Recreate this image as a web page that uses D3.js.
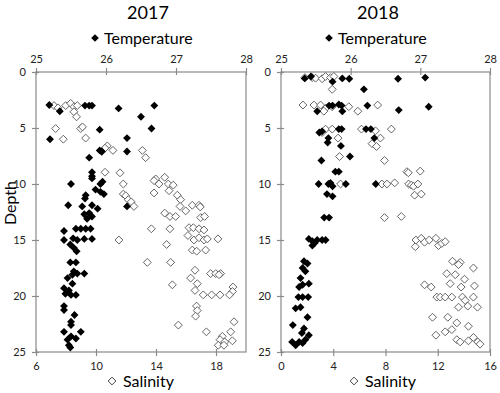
<!DOCTYPE html>
<html><head><meta charset="utf-8">
<script src="https://cdn.jsdelivr.net/npm/d3@7"></script>
<style>body{margin:0;background:#fff}svg{display:block;font-family:Lato,"Open Sans",sans-serif}</style>
</head><body><svg id="c" width="500" height="393"></svg>
<script>
// [temperature, depth]
const temp2017 = [[25.19,2.95],[25.34,3.5],[25.7,3.0],[25.76,3.0],[25.8,3.0],[26.18,3.25],[26.69,3.0],[26.5,4.0],[25.91,5.15],[26.65,5.05],[25.2,6.0],[26.3,5.9],[25.91,7.0],[25.94,7.1],[26.3,7.1],[25.76,7.65],[25.8,8.95],[25.8,9.3],
[25.5,10.0],[25.8,9.5],[25.95,9.8],[25.92,10.0],[25.85,10.5],[25.92,10.7],[25.97,10.9],[25.71,11.0],[25.7,11.3],[25.46,11.9],[25.66,12.0],[25.8,11.9],[25.88,12.2],[26.3,12.0],[25.69,12.7],[25.76,12.6],[25.8,12.9],[25.73,13.1],[25.4,14.2],[25.57,14.0],[25.64,14.0],[25.71,14.0],[25.78,14.0],[25.4,15.0],[25.53,14.85],[25.59,15.0],[25.69,14.9],[25.8,14.9],[25.49,15.4],[25.54,15.7],[25.58,16.0],[25.49,17.0],[25.57,17.0],
[25.54,17.8],[25.59,18.0],[25.69,18.0],[25.52,18.1],[25.45,18.4],[25.52,18.9],[25.4,19.3],[25.42,19.8],[25.5,19.9],[25.57,19.9],[25.47,19.5],[25.4,20.9],[25.4,21.25],[25.55,21.7],[25.5,22.3],[25.5,22.6],[25.4,23.2],[25.64,23.2],[25.5,23.6],[25.57,23.8],[25.45,23.9],[25.47,24.4],[25.49,24.6]];
// [salinity, depth]
const sal2017 = [[7.2,3.0],[7.47,3.2],[7.98,3.0],[8.31,2.8],[8.53,3.1],[8.75,3.0],[8.53,3.55],[8.7,4.0],[7.31,5.05],[8.98,5.05],[9.1,4.9],[7.82,6.0],[9.31,5.9],[10.75,6.6],[10.6,6.8],[10.38,7.1],[11.13,7.0],[13.09,7.0],[13.31,7.65],[10.6,8.95],[11.6,9.0],[13.98,9.55],[14.58,9.4],
[11.82,10.0],[13.87,9.7],[14.2,10.0],[14.82,10.0],[15.15,10.1],[13.87,10.8],[14.87,10.6],[15.42,11.0],[11.82,10.9],[11.98,11.05],[12.15,11.4],[12.35,11.6],[12.53,12.0],[15.64,11.4],[15.6,12.0],[15.98,12.4],[16.42,11.9],[16.87,11.9],[16.95,12.05],[14.58,12.6],[14.93,12.9],[15.31,12.9],[16.98,13.0],[17.24,12.9],[13.69,14.0],[14.93,14.0],[16.2,13.9],[16.49,13.9],[16.87,14.0],[17.2,14.1],[16.13,14.6],[16.53,15.0],[16.87,14.8],[17.2,15.0],[17.42,14.9],[18.13,14.9],[11.53,15.0],[14.71,15.4],[16.42,15.9],[16.71,16.0],[17.31,15.9],[13.42,17.0],[14.98,17.0],
[16.6,17.7],[16.31,18.4],[16.75,18.9],[17.64,18.0],[17.98,18.0],[18.31,18.0],[18.2,18.1],[15.09,19.0],[16.6,19.5],[17.15,19.9],[17.71,19.9],[18.27,19.9],[19.13,19.2],[19.1,19.6],[18.9,19.9],[16.7,20.9],[16.75,21.3],[16.64,21.8],[15.49,22.6],[19.2,22.3],[17.36,23.2],[18.98,23.2],[18.42,23.6],[18.27,23.9],[18.58,24.1],[19.09,24.0],[18.15,24.4],[18.53,24.4]];
const temp2018 = [[25.34,0.57],[25.43,0.4],[25.88,0.57],[25.98,0.6],[25.74,0.86],[26.68,0.6],[27.07,0.5],[26.19,1.55],[25.52,3.5],[25.69,3.0],[25.74,3.0],[25.83,2.9],[25.87,3.0],[25.88,3.5],[26.24,3.0],[26.69,3.4],[27.12,3.1],[25.55,5.4],[25.83,5.1],[25.87,5.1],[25.59,5.3],[26.22,5.1],[26.29,5.1],[25.68,5.9],[25.67,6.3],[26.34,5.9],[25.86,6.6],[25.99,7.55],[25.58,7.9],
[25.78,8.9],[25.83,8.9],[25.54,10.0],[25.68,10.0],[25.71,9.9],[25.74,10.2],[25.93,10.0],[26.36,10.0],[25.66,10.9],[25.74,11.1],[25.62,13.0],[25.69,13.0],[25.4,14.9],[25.45,15.1],[25.52,15.0],[25.59,15.0],[25.64,15.0],[25.45,15.5],[25.48,15.3],
[25.33,16.9],[25.38,17.1],[25.31,17.5],[25.35,17.8],[25.28,18.4],[25.4,18.9],[25.26,19.2],[25.31,19.0],[25.25,20.1],[25.31,20.1],[25.39,20.1],[25.21,21.1],[25.28,21.0],[25.38,21.9],[25.17,22.6],[25.33,22.9],[25.4,23.5],[25.16,24.1],[25.21,24.4],[25.26,24.1],[25.31,24.2],[25.35,23.9],[25.3,23.3]];
const sal2018 = [[1.83,0.5],[2.39,0.5],[2.65,0.55],[3.15,0.6],[3.41,0.4],[3.79,0.5],[4.05,0.4],[3.92,1.55],[1.68,2.95],[2.52,2.95],[3.03,2.95],[3.41,3.25],[3.28,3.5],[3.92,3.1],[5.19,3.1],[5.88,3.5],[7.4,2.95],[3.15,5.4],[3.41,5.1],[3.92,5.1],[6.16,5.1],[7.23,5.25],[8.45,5.1],[4.37,5.9],[7.61,5.9],[6.97,6.4],[7.31,6.65],[4.48,7.55],[7.92,7.9],
[9.64,8.9],[10.66,8.85],[9.75,9.0],[7.73,10.0],[8.11,10.0],[8.7,9.9],[4.56,10.0],[9.77,10.0],[9.98,10.1],[10.15,10.2],[10.48,10.0],[10.23,11.0],[10.74,10.9],[7.92,13.0],[9.21,12.9],
[10.28,15.6],[10.33,15.0],[10.74,14.85],[10.99,15.2],[11.35,15.0],[11.86,14.85],[12.06,15.5],[12.31,15.3],[12.57,15.15],
[13.13,16.9],[13.72,17.0],[13.59,17.2],[14.73,17.5],[12.69,18.0],[13.34,18.1],[14.05,18.5],[10.99,19.0],[11.5,19.2],[12.95,18.9],[13.79,19.2],[14.81,19.1],[11.93,20.1],[12.19,20.1],[12.57,20.1],[13.08,20.1],[13.89,20.1],[14.1,20.4],[14.73,20.1],[13.59,21.0],[14.3,20.9],[15.04,21.0],[11.6,21.9],[12.77,21.9],[13.46,22.4],[14.35,22.7],[12.57,23.2],[13.08,23.0],[11.86,23.5],[13.46,23.9],[14.35,24.0],[14.73,23.7],[15.06,24.1],[15.24,24.3],[13.72,24.1]];

const tempTicks = [25,26,27,28];
const depthTicks = [0,5,10,15,20,25];
const salTicks2017 = [6,10,14,18];
const salTicks2018 = [0,4,8,12,16];
const titles = ["2017","2018"];

const svg = d3.select("#c");
const diamond = {draw(ctx,size){const r=Math.sqrt(size/2);ctx.moveTo(0,-r);ctx.lineTo(r,0);ctx.lineTo(0,r);ctx.lineTo(-r,0);ctx.closePath();}};
const sym = d3.symbol().type(diamond).size(31)();
const symLeg = d3.symbol().type(diamond).size(30)();

const panels = [
  {title:titles[0], x0:36, x1:246, tx:148, temp:temp2017, sal:sal2017, sDom:[6,20], sTicks:salTicks2017, depth:true, legT:95, legS:112},
  {title:titles[1], x0:281, x1:490, tx:378, temp:temp2018, sal:sal2018, sDom:[0,16], sTicks:salTicks2018, depth:false, legT:329, legS:354}
];
const y0=72, y1=352;
const axisCol="#8a8a8a";

panels.forEach(p=>{
  const g = svg.append("g");
  const xT = d3.scaleLinear().domain([25,28]).range([p.x0,p.x1]);
  const xS = d3.scaleLinear().domain(p.sDom).range([p.x0,p.x1]);
  const y = d3.scaleLinear().domain([0,25]).range([y0,y1]);

  g.append("rect").attr("x",p.x0).attr("y",y0).attr("width",p.x1-p.x0).attr("height",y1-y0)
    .attr("fill","none").attr("stroke",axisCol).attr("stroke-width",1.2);

  const styleAxis = a=>{a.select(".domain").remove();a.selectAll("line").attr("stroke",axisCol).attr("stroke-width",1.2);
    a.selectAll("text").attr("font-family","Lato").attr("font-size",11).attr("fill","#222");};
  g.append("g").attr("transform",`translate(0,${y0})`)
    .call(d3.axisTop(xT).tickValues(tempTicks).tickSize(4).tickPadding(5).tickFormat(d3.format("d")))
    .call(styleAxis).call(a=>a.selectAll("line").attr("y2",3).attr("y1",-4));
  g.append("g").attr("transform",`translate(0,${y1})`)
    .call(d3.axisBottom(xS).tickValues(p.sTicks).tickSize(4).tickPadding(6).tickFormat(d3.format("d")))
    .call(styleAxis).call(a=>a.selectAll("line").attr("y1",-3).attr("y2",4));
  g.append("g").attr("transform",`translate(${p.x0},0)`)
    .call(d3.axisLeft(y).tickValues(depthTicks).tickSize(4).tickPadding(6))
    .call(styleAxis).call(a=>a.selectAll("line").attr("x1",3).attr("x2",-4));

  g.append("g").selectAll("path").data(p.sal).join("path").attr("d",sym)
    .attr("transform",d=>`translate(${xS(d[0])},${y(d[1])})`)
    .attr("fill","#fff").attr("stroke","#555").attr("stroke-width",0.9);
  g.append("g").selectAll("path").data(p.temp).join("path").attr("d",sym)
    .attr("transform",d=>`translate(${xT(d[0])},${y(d[1])})`)
    .attr("fill","#000");

  g.append("text").attr("x",p.tx).attr("y",19).attr("text-anchor","middle")
    .attr("font-size",18).attr("fill","#000").text(p.title);
  g.append("path").attr("d",symLeg).attr("transform",`translate(${p.legT},38)`).attr("fill","#000");
  g.append("text").attr("x",p.legT+9).attr("y",44).attr("font-size",16).attr("fill","#000").text("Temperature");
  g.append("path").attr("d",symLeg).attr("transform",`translate(${p.legS},381)`).attr("fill","#fff").attr("stroke","#444").attr("stroke-width",1);
  g.append("text").attr("x",p.legS+11).attr("y",387).attr("font-size",16).attr("fill","#000").text("Salinity");
  if(p.depth){
    g.append("text").attr("transform",`translate(16,203) rotate(-90)`).attr("text-anchor","middle")
      .attr("font-size",16).attr("fill","#000").text("Depth");
  }
});
</script></body></html>
